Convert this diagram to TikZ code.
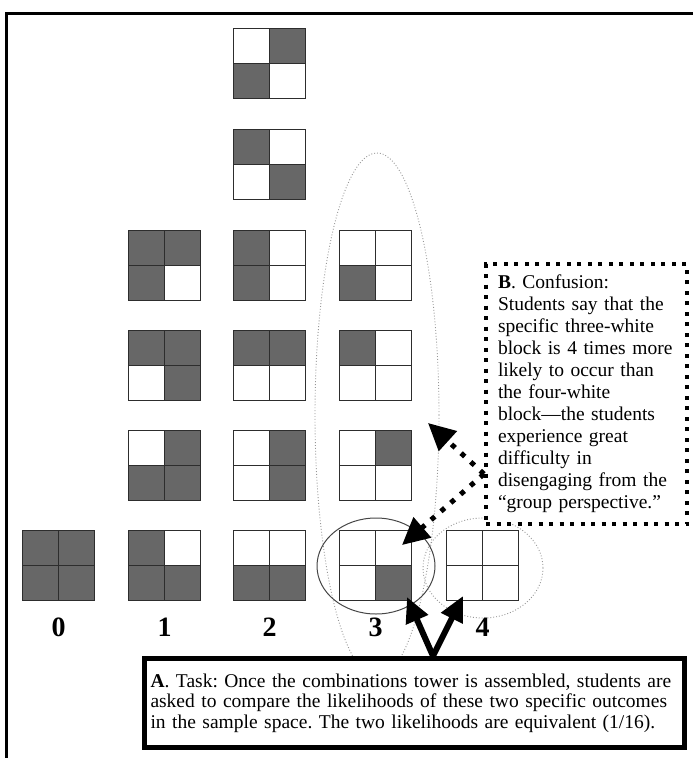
\documentclass[tikz,border=0pt]{standalone}
\usepackage{fontspec}
\setmainfont{Liberation Serif}
\usetikzlibrary{arrows.meta, positioning, calc}
\definecolor{mydark}{RGB}{103,103,103}
\definecolor{myedge}{RGB}{45,45,45}
\definecolor{myoval}{RGB}{150,150,150}
\definecolor{myring}{RGB}{70,70,70}
\tikzset{
  blk/.style={rectangle, minimum width=71pt, minimum height=69pt, inner sep=0pt},
  cellline/.style={line width=1.3pt, color=myedge},
  numlbl/.style={font=\fontsize{28}{30}\selectfont\bfseries},
  taskbox/.style={rectangle, draw=black, fill=white, line width=5pt,
    minimum width=540pt, minimum height=89pt, text width=528pt, inner xsep=6pt,
    align=left, font=\fontsize{19.5}{20.5}\selectfont},
  notebox/.style={rectangle, draw=black, fill=white, line width=4pt,
    dash pattern=on 4pt off 6.5pt, minimum width=201pt, minimum height=260pt,
    text width=177pt, inner xsep=12pt, align=left, font=\fontsize{19.5}{22}\selectfont},
  bigarrow/.style={-{Triangle[length=25pt,width=23pt]}, line width=6pt},
  dotarrow/.style={-{Triangle[length=27pt,width=26pt]}, line width=5pt,
    dash pattern=on 5pt off 8pt},
  dotoval/.style={myoval, line width=0.9pt, dotted},
  ringline/.style={myring, line width=1pt}
}
% one 2x2 block: name, x, y, then TL TR BL BR fills
\newcommand{\sqblock}[7]{%
  \node[blk] (#1) at (#2,#3) {};
  \fill[#4] (#1.north west) rectangle (#1.center);
  \fill[#5] (#1.north) rectangle (#1.east);
  \fill[#6] (#1.west) rectangle (#1.south);
  \fill[#7] (#1.center) rectangle (#1.south east);
  \draw[cellline] (#1.north) -- (#1.south) (#1.west) -- (#1.east);
  \draw[cellline] (#1.north west) rectangle (#1.south east);
}

\begin{document}
\frenchspacing
\begin{tikzpicture}[x=1pt, y=-1pt]
  \useasboundingbox (0,0) rectangle (693,758);
  % frame
  \draw[line width=3pt] (693,13) -- (6.5,13) -- (6.5,758);

  % highlight ovals
  \draw[dotoval] (377,415) ellipse [x radius=62, y radius=262];
  \draw[ringline] (376,566) ellipse [x radius=59, y radius=48];
  \draw[dotoval] (483,568) ellipse [x radius=60, y radius=50];

  % tower, column 0
  \sqblock{c0r0}{58.5}{565.5}{mydark}{mydark}{mydark}{mydark}
  % column 1
  \sqblock{c1r0}{164.5}{565.5}{mydark}{white}{mydark}{mydark}
  \sqblock{c1r1}{164.5}{465.5}{white}{mydark}{mydark}{mydark}
  \sqblock{c1r2}{164.5}{365.5}{mydark}{mydark}{white}{mydark}
  \sqblock{c1r3}{164.5}{265.5}{mydark}{mydark}{mydark}{white}
  % column 2
  \sqblock{c2r0}{269.5}{565.5}{white}{white}{mydark}{mydark}
  \sqblock{c2r1}{269.5}{465.5}{white}{mydark}{white}{mydark}
  \sqblock{c2r2}{269.5}{365.5}{mydark}{mydark}{white}{white}
  \sqblock{c2r3}{269.5}{265.5}{mydark}{white}{mydark}{white}
  \sqblock{c2r4}{269.5}{164.5}{mydark}{white}{white}{mydark}
  \sqblock{c2r5}{269.5}{63.5}{white}{mydark}{mydark}{white}
  % column 3
  \sqblock{c3r0}{375.5}{565.5}{white}{white}{white}{mydark}
  \sqblock{c3r1}{375.5}{465.5}{white}{mydark}{white}{white}
  \sqblock{c3r2}{375.5}{365.5}{mydark}{white}{white}{white}
  \sqblock{c3r3}{375.5}{265.5}{white}{white}{mydark}{white}
  % column 4
  \sqblock{c4r0}{482.5}{565.5}{white}{white}{white}{white}

  % column numbers
  \node[numlbl] (n0) at (58.5,627) {0};
  \node[numlbl] (n1) at (164.5,627) {1};
  \node[numlbl] (n2) at (269.5,627) {2};
  \node[numlbl] (n3) at (375.5,627) {3};
  \node[numlbl] (n4) at (482.5,627) {4};

  % callouts
  \node[taskbox] (task) at (414.5,703) {\textbf{A}. Task: Once the combinations tower is assembled, students are\\
    asked to compare the likelihoods of these two specific outcomes\\
    in the sample space. The two likelihoods are equivalent (1/16).};
  \node[notebox] (confusion) at (586.5,394) {\textbf{B}. Confusion:\\
    Students say that the\\
    specific three-white\\
    block is 4 times more\\
    likely to occur than\\
    the four-white\\
    block---the students\\
    experience great\\
    difficulty in\\
    disengaging from the\\
    ``group perspective.''};

  % arrows
  \coordinate (tipL) at (407,597);
  \coordinate (tipR) at (463,596);
  \coordinate (tipUp) at (428,423);
  \coordinate (tipDn) at (402,545);
  \draw[bigarrow] ([xshift=18.5pt]task.north) -- (tipL);
  \draw[bigarrow] ([xshift=18.5pt]task.north) -- (tipR);
  \draw[dotarrow] ([yshift=-80pt]confusion.west) -- (tipUp);
  \draw[dotarrow] ([yshift=-80pt]confusion.west) -- (tipDn);
\end{tikzpicture}
\end{document}
